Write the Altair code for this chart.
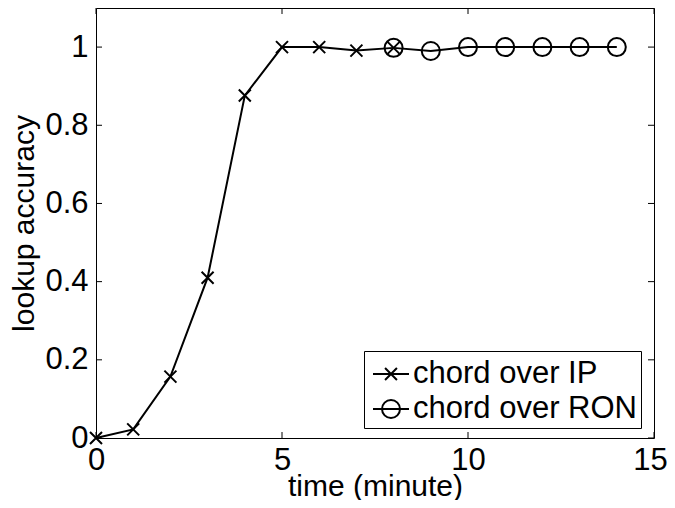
import altair as alt
import pandas as pd

# ---- data ----
time_ip = [0, 1, 2, 3, 4, 5, 6, 7, 8]
acc_ip = [0.0, 0.022, 0.157, 0.41, 0.876, 1.0, 1.0, 0.991, 0.998]
time_ron = [8, 9, 10, 11, 12, 13, 14]
acc_ron = [0.998, 0.99, 1.0, 1.0, 1.0, 1.0, 1.0]
series_names = ["chord over IP", "chord over RON"]
x_ticks = [0, 5, 10, 15]
y_ticks = [0, 0.2, 0.4, 0.6, 0.8, 1]

W, H = 558, 430
FONT = "Liberation Sans"
FS = 31

df_ip = pd.DataFrame({"time": time_ip, "acc": acc_ip, "series": series_names[0]})
df_ron = pd.DataFrame({"time": time_ron, "acc": acc_ron, "series": series_names[1]})
df = pd.concat([df_ip, df_ron], ignore_index=True)

X_PATH = "M-1,-1L1,1M-1,1L1,-1"
X_LEG = "M-1,0L1,0M-0.33,-0.33L0.33,0.33M-0.33,0.33L0.33,-0.33"
O_LEG = "M-1,0L1,0M0.5,0A0.5,0.5,0,1,1,-0.5,0A0.5,0.5,0,1,1,0.5,0"

xscale = alt.Scale(domain=[0, 15], nice=False, zero=False)
yscale = alt.Scale(domain=[0, 1.1], nice=False, zero=False)

xenc = alt.X("time:Q", scale=xscale,
             axis=alt.Axis(values=x_ticks, title="time (minute)", labelFlush=False,
                           labelOverlap=False, ticks=False, domain=False, grid=False,
                           labelOffset={"condition": {"test": "datum.value === 15", "value": -4},
                                        "value": 0},
                           labelFontSize=FS, titleFontSize=30, labelFont=FONT, titleFont=FONT,
                           labelColor="black", titleColor="black", titleFontWeight="normal",
                           labelPadding=7, titlePadding=-4))
yenc = alt.Y("acc:Q", scale=yscale,
             axis=alt.Axis(values=y_ticks, format="~g", title="lookup accuracy",
                           labelOverlap=False, ticks=False, domain=False, grid=False,
                           labelFontSize=FS, titleFontSize=30, labelFont=FONT, titleFont=FONT,
                           labelColor="black", titleColor="black", titleFontWeight="normal",
                           labelPadding=8, titlePadding=5))

lines = alt.Chart(df).mark_line(color="black", strokeWidth=2).encode(
    x=xenc, y=yenc, detail="series:N")

pts_ip = alt.Chart(df_ip).mark_point(shape=X_PATH, size=144, color="black",
                                      filled=False, strokeWidth=2, opacity=1).encode(x=xenc, y=yenc)
pts_ron = alt.Chart(df_ron).mark_point(shape="circle", size=324, color="black",
                                        filled=False, strokeWidth=2, opacity=1).encode(x=xenc, y=yenc)

legend_layer = alt.Chart(df).mark_point(opacity=0, color="black", filled=False,
                                        size=1296, strokeWidth=2).encode(
    x=xenc, y=yenc,
    shape=alt.Shape("series:N",
                    scale=alt.Scale(domain=series_names, range=[X_LEG, O_LEG]),
                    legend=alt.Legend(title=None, orient="none", legendX=268, legendY=343,
                                      strokeColor="black", fillColor="white", padding=4,
                                      labelFontSize=FS, labelFont=FONT, labelColor="black",
                                      labelLimit=600,
                                      symbolSize=1296, symbolStrokeColor="black",
                                      symbolStrokeWidth=2, symbolFillColor="transparent",
                                      symbolOffset=4, labelOffset=3, rowPadding=1,
                                      cornerRadius=0)))

tx = pd.DataFrame({"time": x_ticks})
ty = pd.DataFrame({"acc": y_ticks})
tick_bottom = alt.Chart(tx).mark_rule(color="black", strokeWidth=1).encode(
    x=xenc, y=alt.value(H), y2=alt.value(H - 6))
tick_top = alt.Chart(tx).mark_rule(color="black", strokeWidth=1).encode(
    x=xenc, y=alt.value(0), y2=alt.value(6))
tick_left = alt.Chart(ty).mark_rule(color="black", strokeWidth=1).encode(
    y=yenc, x=alt.value(0), x2=alt.value(6))
tick_right = alt.Chart(ty).mark_rule(color="black", strokeWidth=1).encode(
    y=yenc, x=alt.value(W), x2=alt.value(W - 6))

chart = alt.layer(tick_bottom, tick_top, tick_left, tick_right,
                  lines, pts_ip, pts_ron, legend_layer).properties(
    width=W, height=H, autosize="none",
    padding={"left": 88, "top": 0, "right": 13, "bottom": 62},
    background="white",
).configure_view(stroke="black", strokeWidth=1)

chart.save("out.html", embed_options={"renderer": "svg", "actions": False})
